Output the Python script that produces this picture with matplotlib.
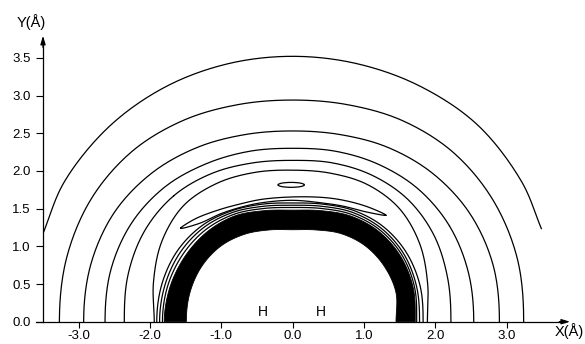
import numpy as np
import matplotlib
matplotlib.use("Agg")
import matplotlib.pyplot as plt
from matplotlib.patches import Ellipse

plt.rcParams["font.family"] = ["Liberation Sans", "DejaVu Sans"]

# Polar sampling angles (degrees, measured from +X axis) used by the closed-shell contours
ANGLES = [0, 15, 30, 45, 60, 75, 90, 105, 120, 135, 150, 165, 180]

# Outer contour, cut by the edge of the computed domain (|X| <= 3.5)
ANGLES_C1 = [19.5, 30, 45, 60, 75, 90, 105, 120, 135, 150, 161.5]
R_C1 = [3.70, 3.71, 3.68, 3.60, 3.54, 3.52, 3.54, 3.59, 3.65, 3.70, 3.69]

# Contour radii (Angstrom) at ANGLES, outside to inside
R_C2 = [3.24, 3.26, 3.24, 3.18, 3.08, 2.98, 2.94, 2.98, 3.08, 3.19, 3.26, 3.28, 3.27]
R_C3 = [2.90, 2.91, 2.87, 2.78, 2.67, 2.57, 2.53, 2.57, 2.67, 2.79, 2.89, 2.93, 2.93]
R_C4 = [2.54, 2.55, 2.54, 2.49, 2.41, 2.34, 2.30, 2.34, 2.42, 2.53, 2.61, 2.64, 2.63]
R_C5 = [2.22, 2.25, 2.29, 2.29, 2.24, 2.18, 2.14, 2.18, 2.27, 2.36, 2.40, 2.39, 2.36]
R_C6 = [1.89, 1.96, 2.06, 2.12, 2.10, 2.04, 2.01, 2.05, 2.12, 2.17, 2.12, 2.02, 1.94]
R_D3 = [1.83, 1.85, 1.84, 1.79, 1.705, 1.615, 1.575, 1.615, 1.70, 1.80, 1.87, 1.90, 1.905]
R_D2 = [1.78, 1.80, 1.80, 1.755, 1.675, 1.585, 1.545, 1.585, 1.675, 1.765, 1.825, 1.855, 1.865]
R_D1 = [1.74, 1.77, 1.77, 1.725, 1.645, 1.555, 1.515, 1.555, 1.645, 1.725, 1.78, 1.815, 1.825]

# Boundaries of the solid (unresolved) band of contours near the molecule
R_BAND_OUT = [1.72, 1.75, 1.745, 1.70, 1.62, 1.525, 1.48, 1.525, 1.62, 1.69, 1.74, 1.78, 1.80]
R_BAND_IN = [1.45, 1.50, 1.48, 1.43, 1.35, 1.26, 1.22, 1.26, 1.34, 1.42, 1.47, 1.49, 1.49]

# Crescent-shaped closed contour above the band (right tip -> upper edge -> left tip -> lower edge)
ANGLES_CRESCENT = [47.2, 55, 65, 75, 90, 105, 115, 125, 135, 141.7,
                   135, 125, 115, 105, 90, 75, 65, 55]
R_CRESCENT = [1.925, 1.855, 1.77, 1.705, 1.655, 1.68, 1.725, 1.81, 1.93, 2.00,
              1.845, 1.75, 1.68, 1.635, 1.61, 1.63, 1.69, 1.78]

# Small closed contour around the minimum
MIN_CENTER = (-0.02, 1.815)
MIN_SIZE = (0.37, 0.065)

# Nuclear positions
H_X = [-0.42, 0.40]

X_TICKS = [-3, -2, -1, 0, 1, 2, 3]
X_TICK_LABELS = ["-3.0", "-2.0", "-1.0", "0.0", "1.0", "2.0", "3.0"]
Y_TICKS = [0, 0.5, 1.0, 1.5, 2.0, 2.5, 3.0, 3.5]
Y_TICK_LABELS = ["0.0", "0.5", "1.0", "1.5", "2.0", "2.5", "3.0", "3.5"]


def to_xy(angles, radii):
    a = np.deg2rad(np.asarray(angles, float))
    r = np.asarray(radii, float)
    return np.column_stack([r * np.cos(a), r * np.sin(a)])


def _cr_segment(p0, p1, p2, p3, n=24):
    # centripetal Catmull-Rom segment from p1 to p2
    def knot(ti, pa, pb):
        return ti + max(np.linalg.norm(pb - pa), 1e-9) ** 0.5
    t0 = 0.0
    t1 = knot(t0, p0, p1)
    t2 = knot(t1, p1, p2)
    t3 = knot(t2, p2, p3)
    t = np.linspace(t1, t2, n)[:, None]
    a1 = (t1 - t) / (t1 - t0) * p0 + (t - t0) / (t1 - t0) * p1
    a2 = (t2 - t) / (t2 - t1) * p1 + (t - t1) / (t2 - t1) * p2
    a3 = (t3 - t) / (t3 - t2) * p2 + (t - t2) / (t3 - t2) * p3
    b1 = (t2 - t) / (t2 - t0) * a1 + (t - t0) / (t2 - t0) * a2
    b2 = (t3 - t) / (t3 - t1) * a2 + (t - t1) / (t3 - t1) * a3
    return (t2 - t) / (t2 - t1) * b1 + (t - t1) / (t2 - t1) * b2


def smooth(pts, closed=False, mirror=True):
    pts = np.asarray(pts, float)
    if closed:
        ext = np.vstack([pts[-1], pts, pts[0], pts[1]])
        nseg = len(pts)
    else:
        if mirror:  # curve meets the symmetry axis y = 0 at right angles
            first = pts[1] * [1, -1]
            last = pts[-2] * [1, -1]
        else:
            first = 2 * pts[0] - pts[1]
            last = 2 * pts[-1] - pts[-2]
        ext = np.vstack([first, pts, last])
        nseg = len(pts) - 1
    segs = [_cr_segment(ext[i], ext[i + 1], ext[i + 2], ext[i + 3]) for i in range(nseg)]
    out = np.vstack(segs)
    return out[:, 0], out[:, 1]


fig = plt.figure(figsize=(5.85, 3.44), dpi=100)
ax = fig.add_axes([43 / 585, 22.3 / 344, 1 - 43 / 585, 321.7 / 344])
ax.set_xlim(-3.5, 4.10)
ax.set_ylim(0, 4.267)

lw = 0.9
kw = dict(color="black", lw=lw, solid_joinstyle="round")

x, y = smooth(to_xy(ANGLES_C1, R_C1), mirror=False)
ax.plot(x, y, **kw)
for radii in (R_C2, R_C3, R_C4, R_C5, R_C6, R_D3, R_D2, R_D1):
    x, y = smooth(to_xy(ANGLES, radii))
    ax.plot(x, y, **kw)

# solid band
xo, yo = smooth(to_xy(ANGLES, R_BAND_OUT))
xi, yi = smooth(to_xy(ANGLES, R_BAND_IN))
ax.fill(np.concatenate([xo, xi[::-1]]), np.concatenate([yo, yi[::-1]]),
        color="black", lw=0.6, ec="black")

# crescent
x, y = smooth(to_xy(ANGLES_CRESCENT, R_CRESCENT), closed=True)
ax.plot(np.append(x, x[0]), np.append(y, y[0]), **kw)

ax.add_patch(Ellipse(MIN_CENTER, MIN_SIZE[0], MIN_SIZE[1], fill=False,
                     ec="black", lw=lw))

for hx in H_X:
    ax.text(hx, 0.04, "H", ha="center", va="bottom", fontsize=10)

# axes with arrows
for side in ("top", "right"):
    ax.spines[side].set_visible(False)
ax.spines["left"].set_bounds(0, 3.72)
ax.spines["bottom"].set_bounds(-3.6, 3.82)
ax.spines["left"].set_linewidth(0.9)
ax.spines["bottom"].set_linewidth(0.9)
ax.spines["bottom"].set_position(("data", 0))
ax.spines["left"].set_position(("data", -3.5))
ax.annotate("", xy=(3.93, 0), xytext=(3.70, 0),
            arrowprops=dict(arrowstyle="-|>,head_length=0.5,head_width=0.15",
                            color="black", lw=0.9), annotation_clip=False)
ax.annotate("", xy=(-3.5, 3.83), xytext=(-3.5, 3.60),
            arrowprops=dict(arrowstyle="-|>,head_length=0.5,head_width=0.15",
                            color="black", lw=0.9), annotation_clip=False)

ax.set_xticks(X_TICKS)
ax.set_xticklabels(X_TICK_LABELS)
ax.set_yticks(Y_TICKS)
ax.set_yticklabels(Y_TICK_LABELS)
ax.tick_params(axis="x", direction="out", length=4, width=0.8, pad=2, labelsize=9.5)
ax.tick_params(axis="y", direction="out", length=5, width=0.8, pad=4, labelsize=9.5)

ax.text(-3.66, 3.97, "Y(Å)", ha="center", va="center", fontsize=10.5, clip_on=False)
ax.text(3.88, -0.12, "X(Å)", ha="center", va="center", fontsize=10.5, clip_on=False)

fig.savefig("out.png", dpi=100)
